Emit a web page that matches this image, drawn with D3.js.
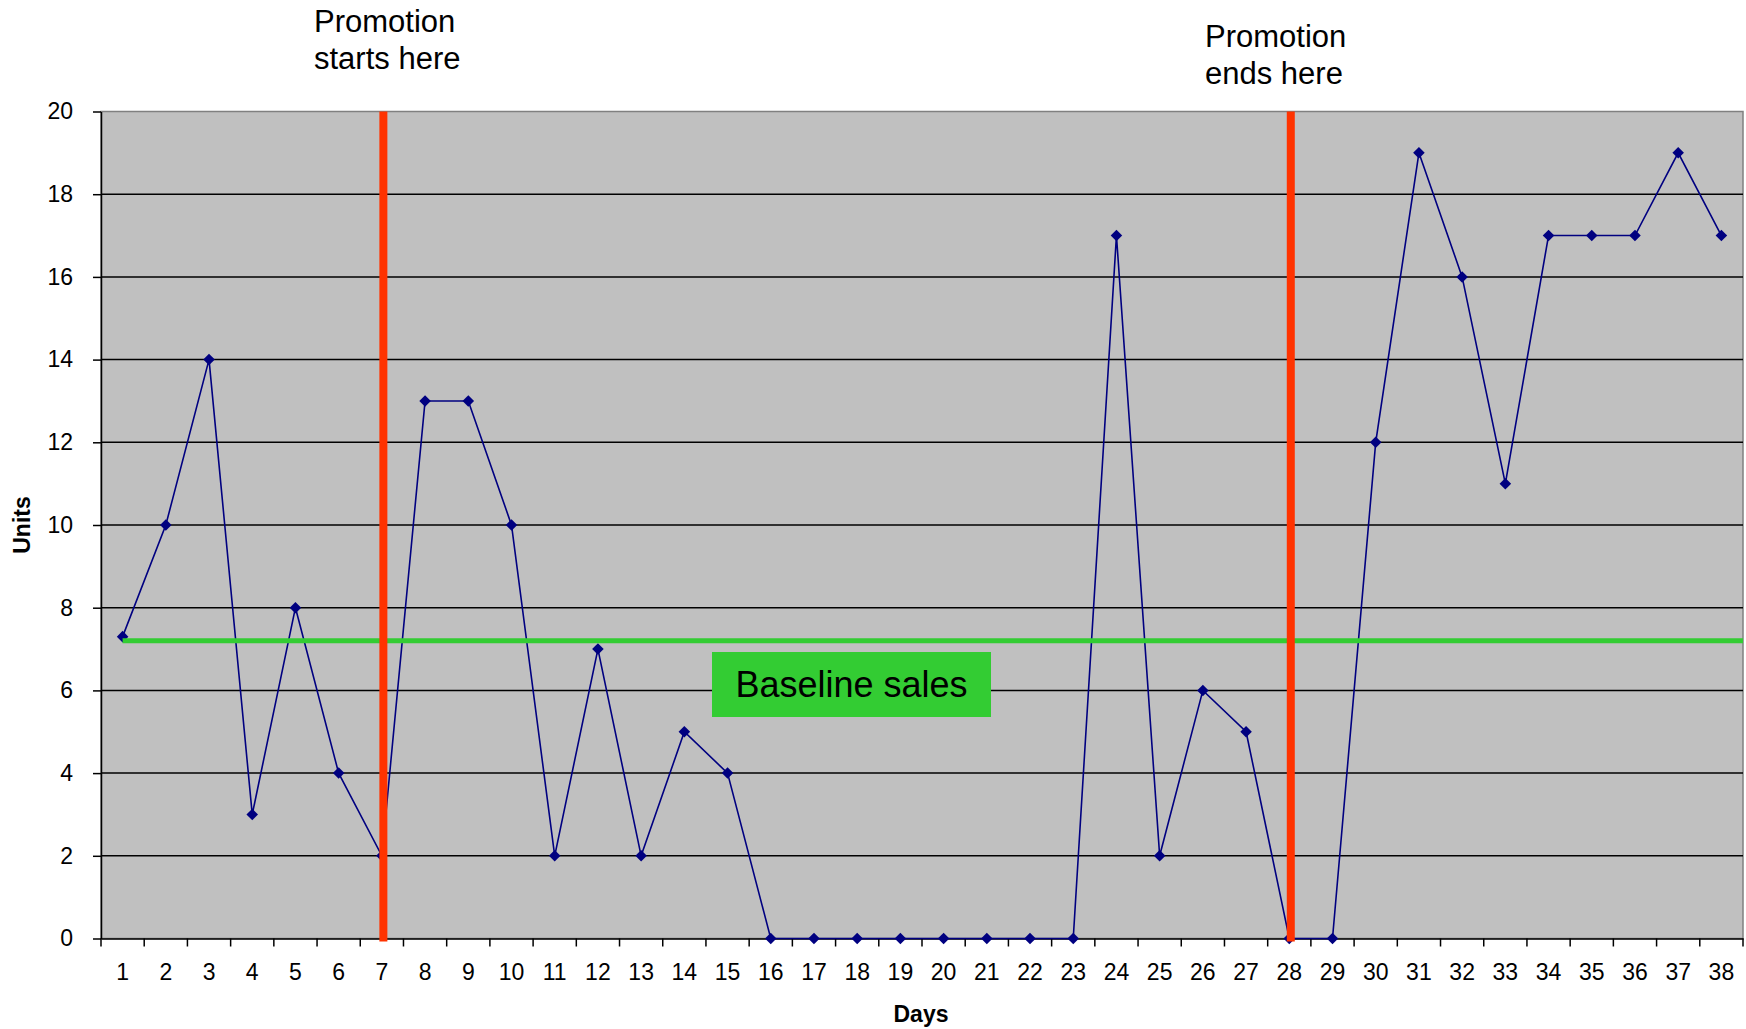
<!DOCTYPE html>
<html><head><meta charset="utf-8">
<script src="https://cdn.jsdelivr.net/npm/d3@7"></script>
<style>body{margin:0;background:#fff;} svg{display:block;}</style>
</head><body>
<svg id="chart" width="1746" height="1029"></svg>
<script>
const days = d3.range(1, 39).map(String);
const units = [7.3,10,14,3,8,4,2,13,13,10,2,7,2,5,4,0,0,0,0,0,0,0,0,17,2,6,5,0,0,12,19,16,11,17,17,17,19,17];
const yTicks = [0,2,4,6,8,10,12,14,16,18,20];
const baseline = 7.2;
const promoStart = "7", promoEnd = "28";
const notes = [{day:"7", lines:["Promotion","starts here"]},{day:"28", lines:["Promotion","ends here"]}];

const svg = d3.select("#chart");
const m = {left:101, top:111.5, right:1743, bottom:938.5};
const x = d3.scaleBand().domain(days).range([m.left, m.right]).padding(0);
const y = d3.scaleLinear().domain([0,20]).range([m.bottom, m.top]);
const font = "'Liberation Sans', Arial, sans-serif";

// plot background
svg.append("rect").attr("x", m.left).attr("y", m.top).attr("width", m.right-m.left).attr("height", m.bottom-m.top)
  .attr("fill", "#c0c0c0").attr("stroke", "#808080").attr("stroke-width", 1.5);

// gridlines
svg.append("g").selectAll("line").data(yTicks.filter(d=>d>0 && d<20)).join("line")
  .attr("x1", m.left).attr("x2", m.right).attr("y1", d=>y(d)).attr("y2", d=>y(d))
  .attr("stroke", "#000").attr("stroke-width", 1.5);

// y axis
const yAxis = svg.append("g").attr("transform", `translate(${m.left},0)`)
  .call(d3.axisLeft(y).tickValues(yTicks).tickSize(8).tickPadding(20).tickSizeOuter(0));
yAxis.select(".domain").attr("stroke", "#000").attr("stroke-width", 1.5);
yAxis.selectAll(".tick line").attr("stroke", "#000").attr("stroke-width", 1.5);
yAxis.selectAll("text").attr("font-family", font).attr("font-size", 23).attr("fill", "#000");

// x axis
const xAxis = svg.append("g").attr("transform", `translate(0,${m.bottom})`)
  .call(d3.axisBottom(x).tickSize(0).tickPadding(25).tickSizeOuter(0));
xAxis.select(".domain").attr("stroke", "#000").attr("stroke-width", 1.5);
xAxis.selectAll("text").attr("font-family", font).attr("font-size", 23).attr("fill", "#000");
// tick marks at band boundaries
const bounds = days.map(d => x(d)).concat([x(days[days.length-1]) + x.bandwidth()]);
svg.append("g").selectAll("line").data(bounds).join("line")
  .attr("x1", d=>d).attr("x2", d=>d).attr("y1", m.bottom).attr("y2", m.bottom+8)
  .attr("stroke", "#000").attr("stroke-width", 1.5);

const cx = d => x(d) + x.bandwidth()/2;

// data line
const line = d3.line().x((d,i)=>cx(days[i])).y(d=>y(d));
svg.append("path").datum(units).attr("d", line).attr("fill", "none")
  .attr("stroke", "#000080").attr("stroke-width", 1.6);

// markers
svg.append("g").selectAll("path").data(units).join("path")
  .attr("d", d3.symbol().type(d3.symbolDiamond2).size(85))
  .attr("transform", (d,i)=>`translate(${cx(days[i])},${y(d)})`)
  .attr("fill", "#000080");

// baseline
svg.append("line").attr("x1", cx(days[0])).attr("x2", m.right).attr("y1", y(baseline)).attr("y2", y(baseline))
  .attr("stroke", "#33cc33").attr("stroke-width", 5);

// promotion lines
[promoStart, promoEnd].forEach(d => {
  svg.append("line").attr("x1", cx(d)+1.5).attr("x2", cx(d)+1.5).attr("y1", m.top).attr("y2", m.bottom+3)
    .attr("stroke", "#ff3300").attr("stroke-width", 8);
});

// baseline label box
svg.append("rect").attr("x", 712).attr("y", 652).attr("width", 279).attr("height", 65).attr("fill", "#33cc33");
svg.append("text").attr("x", 851.5).attr("y", 697).attr("text-anchor", "middle")
  .attr("font-family", font).attr("font-size", 36).attr("fill", "#000").text("Baseline sales");

// annotations
const noteY = [31.5, 46.5];
notes.forEach((n, k) => {
  const t = svg.append("text").attr("font-family", font).attr("font-size", 31).attr("fill", "#000");
  const x0 = k === 0 ? 314 : 1205;
  n.lines.forEach((l, j) => {
    t.append("tspan").attr("x", x0).attr("y", noteY[k] + j*37.5).text(l);
  });
});

// axis titles
svg.append("text").attr("x", 921).attr("y", 1022).attr("text-anchor", "middle")
  .attr("font-family", font).attr("font-weight", "bold").attr("font-size", 23).text("Days");
svg.append("text").attr("transform", "translate(30,525) rotate(-90)").attr("text-anchor", "middle")
  .attr("font-family", font).attr("font-weight", "bold").attr("font-size", 23).text("Units");
</script>
</body></html>
